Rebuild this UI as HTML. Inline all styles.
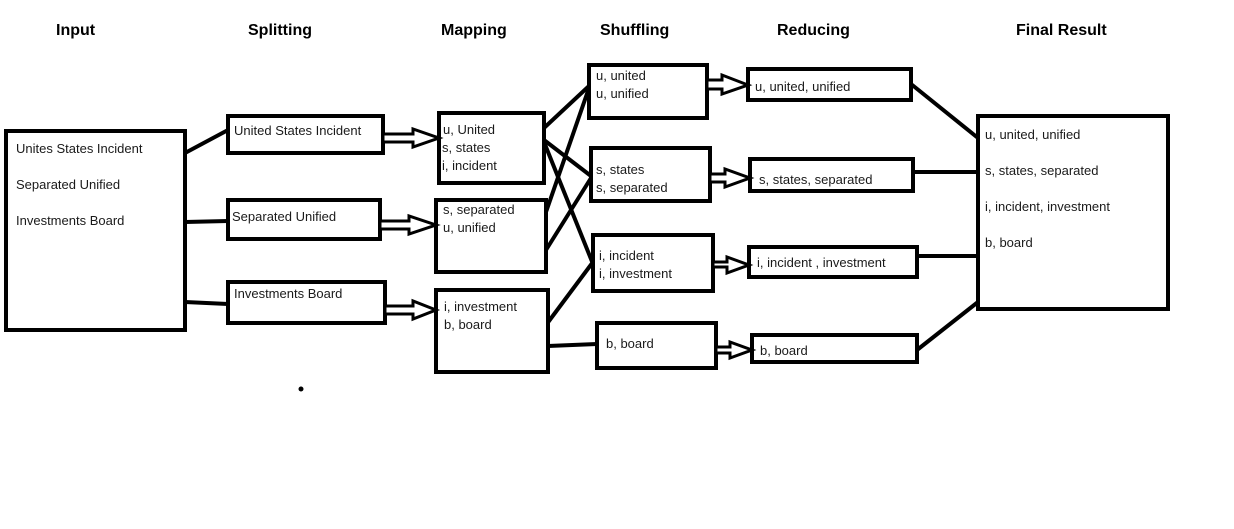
<!DOCTYPE html>
<html><head><meta charset="utf-8"><style>
html,body{margin:0;padding:0;background:#fff;}
svg{display:block;}
text{font-family:"Liberation Sans","DejaVu Sans",sans-serif;font-size:13px;fill:#1a1a1a;}
.t{font-weight:bold;font-size:16px;fill:#000;}
rect{fill:#fff;stroke:#000;stroke-width:4;}
line{stroke:#000;stroke-width:4;}
.ar{fill:#fff;stroke:#000;stroke-width:3;}
</style></head><body>
<svg width="1234" height="529" viewBox="0 0 1234 529">
<text class="t" x="56" y="35">Input</text>
<text class="t" x="248" y="35">Splitting</text>
<text class="t" x="441" y="35">Mapping</text>
<text class="t" x="600" y="35">Shuffling</text>
<text class="t" x="777" y="35">Reducing</text>
<text class="t" x="1016" y="35">Final Result</text>

<!-- connectors -->
<line x1="185" y1="153" x2="228" y2="130"/>
<line x1="185" y1="222" x2="228" y2="221"/>
<line x1="185" y1="302" x2="228" y2="304"/>
<line x1="544" y1="128" x2="589" y2="86"/>
<line x1="544" y1="140" x2="591" y2="176"/>
<line x1="544" y1="142" x2="593" y2="264"/>
<line x1="546" y1="212" x2="589" y2="88"/>
<line x1="546" y1="250" x2="591" y2="178"/>
<line x1="546" y1="325" x2="593" y2="262"/>
<line x1="548" y1="346" x2="597" y2="344"/>
<line x1="911" y1="84" x2="978" y2="138"/>
<line x1="913" y1="172" x2="978" y2="172"/>
<line x1="917" y1="256" x2="978" y2="256"/>
<line x1="917" y1="350" x2="978" y2="302"/>

<!-- boxes -->
<rect x="6" y="131" width="179" height="199"/>
<rect x="228" y="116" width="155" height="37"/>
<rect x="228" y="200" width="152" height="39"/>
<rect x="228" y="282" width="157" height="41"/>
<rect x="439" y="113" width="105" height="70"/>
<rect x="436" y="200" width="110" height="72"/>
<rect x="436" y="290" width="112" height="82"/>
<rect x="589" y="65" width="118" height="53"/>
<rect x="591" y="148" width="119" height="53"/>
<rect x="593" y="235" width="120" height="56"/>
<rect x="597" y="323" width="119" height="45"/>
<rect x="748" y="69" width="163" height="31"/>
<rect x="750" y="159" width="163" height="32"/>
<rect x="749" y="247" width="168" height="30"/>
<rect x="752" y="335" width="165" height="27"/>
<rect x="978" y="116" width="190" height="193"/>

<!-- double arrows -->
<g class="ar">
<path d="M383 134 H413 V129 L439 138 L413 147 V142 H383 Z"/>
<path d="M380 221 H409 V216 L436 225 L409 234 V229 H380 Z"/>
<path d="M385 306 H413 V301 L436 310 L413 319 V314 H385 Z"/>
<path d="M707 80 H722 V75 L748 85 L722 94 V89 H707 Z"/>
<path d="M710 174 H725 V169 L750 178 L725 187 V182 H710 Z"/>
<path d="M713 262 H727 V257 L749 265 L727 273 V267 H713 Z"/>
<path d="M716 347 H730 V342 L752 350 L730 358 V353 H716 Z"/>
</g>
<circle cx="301" cy="389" r="2.5" fill="#000"/>

<!-- text -->
<text x="16" y="153">Unites States Incident</text>
<text x="16" y="189">Separated Unified</text>
<text x="16" y="225">Investments Board</text>
<text x="234" y="135">United States Incident</text>
<text x="232" y="221">Separated Unified</text>
<text x="234" y="298">Investments Board</text>
<text x="443" y="134">u, United</text>
<text x="442" y="152">s, states</text>
<text x="442" y="170">i, incident</text>
<text x="443" y="214">s, separated</text>
<text x="443" y="232">u, unified</text>
<text x="444" y="311">i, investment</text>
<text x="444" y="329">b, board</text>
<text x="596" y="80">u, united</text>
<text x="596" y="98">u, unified</text>
<text x="596" y="174">s, states</text>
<text x="596" y="192">s, separated</text>
<text x="599" y="260">i, incident</text>
<text x="599" y="278">i, investment</text>
<text x="606" y="348">b, board</text>
<text x="755" y="91">u, united, unified</text>
<text x="759" y="184">s, states, separated</text>
<text x="757" y="267">i, incident , investment</text>
<text x="760" y="355">b, board</text>
<text x="985" y="139">u, united, unified</text>
<text x="985" y="175">s, states, separated</text>
<text x="985" y="211">i, incident, investment</text>
<text x="985" y="247">b, board</text>
</svg>
</body></html>
